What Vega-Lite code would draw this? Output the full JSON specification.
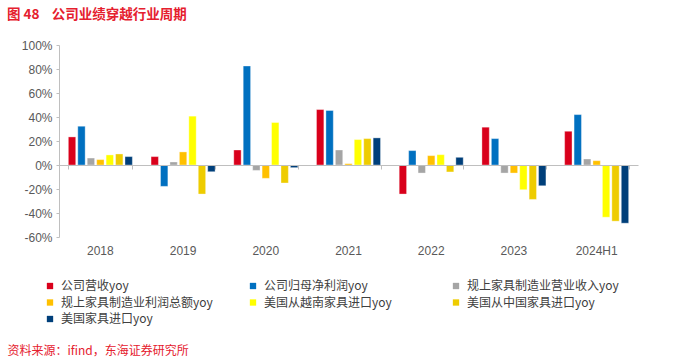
{
  "$schema": "https://vega.github.io/schema/vega-lite/v6.json",
  "width": 579,
  "height": 192,
  "autosize": {"type": "none"},
  "padding": {"left": 59, "top": 45, "right": 52, "bottom": 124},
  "background": "#ffffff",
  "config": {
    "font": "Liberation Sans, Noto Sans CJK SC",
    "view": {"stroke": null}
  },
  "title": {
    "text": "图 48\u00a0\u00a0\u00a0\u00a0公司业绩穿越行业周期",
    "anchor": "start",
    "frame": "group",
    "dx": -52,
    "offset": 18,
    "fontSize": 13.5,
    "fontWeight": "bold",
    "color": "#E5202E",
    "font": "Noto Sans CJK SC"
  },
  "data": {
    "values": [
      {"year": "2018", "series": "公司营收yoy", "value": 23.4},
      {"year": "2018", "series": "公司归母净利润yoy", "value": 32.3},
      {"year": "2018", "series": "规上家具制造业营业收入yoy", "value": 5.8},
      {"year": "2018", "series": "规上家具制造业利润总额yoy", "value": 4.5},
      {"year": "2018", "series": "美国从越南家具进口yoy", "value": 8.4},
      {"year": "2018", "series": "美国从中国家具进口yoy", "value": 9.2},
      {"year": "2018", "series": "美国家具进口yoy", "value": 7.0},
      {"year": "2019", "series": "公司营收yoy", "value": 7.0},
      {"year": "2019", "series": "公司归母净利润yoy", "value": -17.8},
      {"year": "2019", "series": "规上家具制造业营业收入yoy", "value": 2.5},
      {"year": "2019", "series": "规上家具制造业利润总额yoy", "value": 10.9},
      {"year": "2019", "series": "美国从越南家具进口yoy", "value": 40.7},
      {"year": "2019", "series": "美国从中国家具进口yoy", "value": -24.2},
      {"year": "2019", "series": "美国家具进口yoy", "value": -5.6},
      {"year": "2020", "series": "公司营收yoy", "value": 12.5},
      {"year": "2020", "series": "公司归母净利润yoy", "value": 82.5},
      {"year": "2020", "series": "规上家具制造业营业收入yoy", "value": -4.5},
      {"year": "2020", "series": "规上家具制造业利润总额yoy", "value": -11.1},
      {"year": "2020", "series": "美国从越南家具进口yoy", "value": 35.4},
      {"year": "2020", "series": "美国从中国家具进口yoy", "value": -15.0},
      {"year": "2020", "series": "美国家具进口yoy", "value": -2.2},
      {"year": "2021", "series": "公司营收yoy", "value": 46.2},
      {"year": "2021", "series": "公司归母净利润yoy", "value": 45.4},
      {"year": "2021", "series": "规上家具制造业营业收入yoy", "value": 12.5},
      {"year": "2021", "series": "规上家具制造业利润总额yoy", "value": 1.1},
      {"year": "2021", "series": "美国从越南家具进口yoy", "value": 21.2},
      {"year": "2021", "series": "美国从中国家具进口yoy", "value": 22.0},
      {"year": "2021", "series": "美国家具进口yoy", "value": 22.6},
      {"year": "2022", "series": "公司营收yoy", "value": -24.2},
      {"year": "2022", "series": "公司归母净利润yoy", "value": 12.0},
      {"year": "2022", "series": "规上家具制造业营业收入yoy", "value": -6.7},
      {"year": "2022", "series": "规上家具制造业利润总额yoy", "value": 7.8},
      {"year": "2022", "series": "美国从越南家具进口yoy", "value": 8.6},
      {"year": "2022", "series": "美国从中国家具进口yoy", "value": -5.8},
      {"year": "2022", "series": "美国家具进口yoy", "value": 6.4},
      {"year": "2023", "series": "公司营收yoy", "value": 31.5},
      {"year": "2023", "series": "公司归母净利润yoy", "value": 22.0},
      {"year": "2023", "series": "规上家具制造业营业收入yoy", "value": -6.7},
      {"year": "2023", "series": "规上家具制造业利润总额yoy", "value": -6.7},
      {"year": "2023", "series": "美国从越南家具进口yoy", "value": -20.6},
      {"year": "2023", "series": "美国从中国家具进口yoy", "value": -28.7},
      {"year": "2023", "series": "美国家具进口yoy", "value": -17.3},
      {"year": "2024H1", "series": "公司营收yoy", "value": 28.1},
      {"year": "2024H1", "series": "公司归母净利润yoy", "value": 42.0},
      {"year": "2024H1", "series": "规上家具制造业营业收入yoy", "value": 5.0},
      {"year": "2024H1", "series": "规上家具制造业利润总额yoy", "value": 3.6},
      {"year": "2024H1", "series": "美国从越南家具进口yoy", "value": -43.5},
      {"year": "2024H1", "series": "美国从中国家具进口yoy", "value": -46.8},
      {"year": "2024H1", "series": "美国家具进口yoy", "value": -48.5}
    ]
  },
  "layer": [
    {
      "mark": {"type": "bar", "stroke": "#ffffff", "strokeWidth": 0.5, "strokeOpacity": 0.7},
      "encoding": {
        "x": {
          "field": "year", "type": "nominal", "sort": null,
          "scale": {"paddingInner": 0.226, "paddingOuter": 0.113},
          "axis": {
            "orient": "bottom",
            "domain": false, "ticks": false,
            "labelAngle": 0, "labelFontSize": 12, "labelColor": "#595959", "labelPadding": 8,
            "title": "资料来源：ifind，东海证券研究所",
            "titleAnchor": "start", "titleAlign": "left", "titleX": -52, "titleY": 113,
            "titleBaseline": "middle",
            "titleColor": "#E5202E", "titleFontWeight": "normal", "titleFontSize": 12,
            "titleFont": "Noto Sans CJK SC"
          }
        },
        "xOffset": {
          "field": "series", "type": "nominal", "sort": null,
          "scale": {"paddingInner": 0.22, "paddingOuter": 0}
        },
        "y": {
          "field": "value", "type": "quantitative",
          "scale": {"domain": [-60, 100], "nice": false},
          "axis": {
            "values": [-60, -40, -20, 0, 20, 40, 60, 80, 100],
            "labelExpr": "datum.value + '%'",
            "labelOverlap": false, "labelBound": false,
            "grid": false, "domainColor": "#BFBFBF", "tickColor": "#BFBFBF", "tickSize": 3,
            "labelFontSize": 12, "labelColor": "#595959", "labelPadding": 4, "title": null
          }
        },
        "color": {
          "field": "series", "type": "nominal", "sort": null,
          "scale": {
            "domain": ["公司营收yoy", "公司归母净利润yoy", "规上家具制造业营业收入yoy", "规上家具制造业利润总额yoy", "美国从越南家具进口yoy", "美国从中国家具进口yoy", "美国家具进口yoy"],
            "range": ["#D9001B", "#0070C0", "#A5A5A5", "#FFC000", "#FFFF00", "#EECC00", "#003F7A"]
          },
          "legend": {
            "orient": "none", "legendX": -15, "legendY": 235,
            "title": null, "columns": 3, "gridAlign": "all", "columnPadding": 34, "rowPadding": 4.5,
            "symbolType": "square", "symbolSize": 40, "symbolStrokeWidth": 0, "symbolOpacity": 1,
            "labelFontSize": 12, "labelColor": "#404040", "labelLimit": 300, "labelOffset": 5,
            "labelFont": "Noto Sans CJK SC",
            "direction": "horizontal"
          }
        }
      }
    },
    {
      "mark": {"type": "bar", "opacity": 0},
      "encoding": {
        "x": {
          "field": "year", "type": "nominal", "sort": null,
          "axis": {
            "orient": "bottom", "offset": -72, "labels": false, "title": null,
            "domain": true, "domainColor": "#BFBFBF", "domainWidth": 1.2,
            "ticks": true, "tickBand": "extent", "tickSize": 4, "tickColor": "#BFBFBF", "zindex": 1
          }
        },
        "y": {
          "datum": 0, "type": "quantitative",
          "axis": {
            "values": [-60, -40, -20, 0, 20, 40, 60, 80, 100],
            "labelExpr": "datum.value + '%'",
            "labelOverlap": false, "labelBound": false,
            "grid": false, "domainColor": "#BFBFBF", "tickColor": "#BFBFBF", "tickSize": 3,
            "labelFontSize": 12, "labelColor": "#595959", "labelPadding": 4, "title": null
          }
        }
      }
    }
  ],
  "resolve": {"axis": {"x": "independent"}}
}
